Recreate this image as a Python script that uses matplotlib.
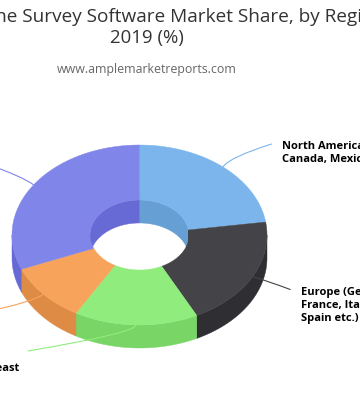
import numpy as np
import matplotlib
matplotlib.use("Agg")
import matplotlib.pyplot as plt
from matplotlib.patches import Polygon, PathPatch
from matplotlib.path import Path

# data
regions = ["North America (US,\nCanada, Mexico)", "Europe (Germany, UK,\nFrance, Italy, Russia,\nSpain etc.)",
           "Middle east", "South America", "Asia Pacific"]
shares = [22.7, 19.9, 15.7, 10.5, 31.2]
title_lines = ["Online Survey Software Market Share, by Region,", "2019 (%)"]
subtitle = "www.amplemarketreports.com"

# style
top_colors = ["#7cb5ec", "#434348", "#90ed7d", "#f7a35c", "#8085e9"]
side_colors = ["#659fd4", "#2e2e33", "#78d566", "#de8c45", "#676ad4"]
cx, cy, a, b, depth = 139.5, 235.0, 127.5, 90.0, 23.0
ia, ib = 49.5, 35.0

fig = plt.figure(figsize=(3.6, 4.0), dpi=100, facecolor="white")
ax = fig.add_axes([0, 0, 1, 1])
ax.set_xlim(0, 360); ax.set_ylim(400, 0); ax.axis("off")

def ell(t, ra, rb, dy=0.0):
    t = np.radians(t)
    return np.column_stack([cx + ra*np.sin(t), cy + dy - rb*np.cos(t)])

def overlap(s, e, lo, hi):
    s2, e2 = max(s, lo), min(e, hi)
    return (s2, e2) if e2 > s2 else None

edges = np.concatenate([[0], np.cumsum(shares)]) / np.sum(shares) * 360
spans = list(zip(edges[:-1], edges[1:]))

# inner walls (visible at the back of the hole)
for (s, e), c in zip(spans, side_colors):
    for lo, hi in [(-90, 90), (270, 450)]:
        ov = overlap(s, e, lo, hi)
        if ov:
            t = np.linspace(ov[0], ov[1], 80)
            pts = np.vstack([ell(t, ia, ib), ell(t[::-1], ia, ib, depth)])
            ax.add_patch(Polygon(pts, closed=True, fc=c, ec=c, lw=0.3, zorder=2))

# outer walls (front half)
for (s, e), c in zip(spans, side_colors):
    ov = overlap(s, e, 90, 270)
    if ov:
        t = np.linspace(ov[0], ov[1], 120)
        pts = np.vstack([ell(t, a, b), ell(t[::-1], a, b, depth)])
        ax.add_patch(Polygon(pts, closed=True, fc=c, ec=c, lw=0.3, zorder=3))

# top faces
for (s, e), c in zip(spans, top_colors):
    t = np.linspace(s, e, 160)
    pts = np.vstack([ell(t, a, b), ell(t[::-1], ia, ib)])
    ax.add_patch(Polygon(pts, closed=True, fc=c, ec=c, lw=0.3, zorder=4))

# leader lines start on the outer rim at each slice's mid angle
mids = [(s + e) / 2 for s, e in spans]
starts = ell(np.array(mids), a, b)
offsets = [
    [(7, -10), (49, -23)],
    [(14, 4), (38, 13)],
    [(0, 8), (-108, 26)],
    [(-12, 8), (-60, 18)],
    [(-10, -8), (-50, -22)],
]
for (sx, sy), off, c in zip(starts, offsets, top_colors):
    (c1x, c1y), (ex, ey) = off
    path = Path([(sx, sy), (sx + c1x, sy + c1y), (sx + ex, sy + ey)],
                [Path.MOVETO, Path.CURVE3, Path.CURVE3])
    ax.add_patch(PathPatch(path, fc="none", ec=c, lw=0.8, zorder=5))

# labels
lab = dict(fontsize=8.0, fontweight="bold", color="black", family="Open Sans",
           linespacing=1.25, va="top", clip_on=True, zorder=6)
ax.text(282, 141, regions[0], ha="left", **lab)
ax.text(301, 287, regions[1], ha="left", **lab)
ax.text(19, 363, regions[2], ha="right", **lab)

# titles
ax.text(-41, 17, title_lines[0], ha="left", va="center", fontsize=13.65, family="Open Sans",
        color="#333333", clip_on=True)
ax.text(147, 38, title_lines[1], ha="center", va="center", fontsize=13.4, family="Open Sans", color="#333333")
ax.text(147, 69, subtitle, ha="center", va="center", fontsize=8.95, family="Open Sans", color="#666666")

fig.savefig("out.png", dpi=100, facecolor="white")
